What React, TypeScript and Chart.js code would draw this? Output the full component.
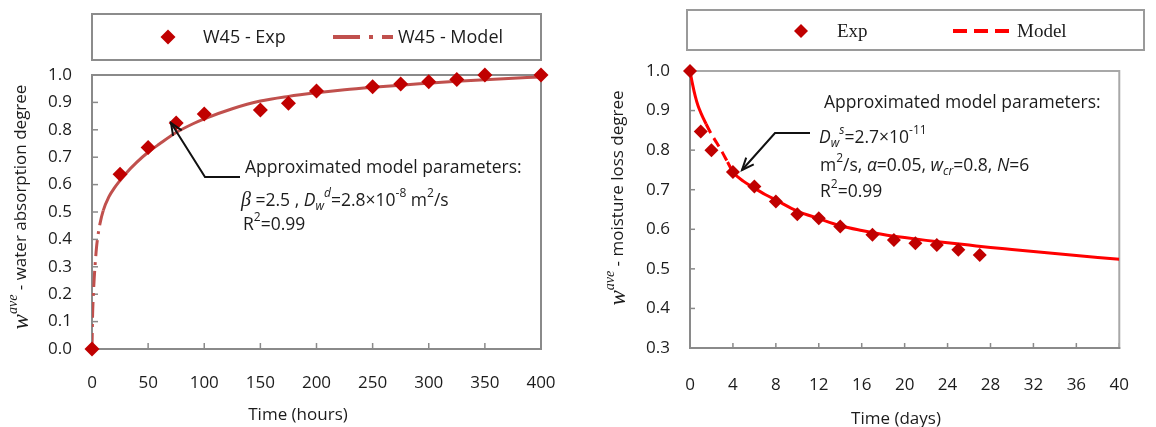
import React, { useEffect, useRef } from 'react';
import { Chart, registerables } from 'chart.js';

Chart.register(...registerables);

// ---------- Left chart: water absorption (W45) ----------
const absTimeExp = [0, 25, 50, 75, 100, 150, 175, 200, 250, 275, 300, 325, 350, 400];
const absExp = [0, 0.638, 0.735, 0.825, 0.858, 0.872, 0.897, 0.942, 0.957, 0.967, 0.975, 0.984, 1.0, 1.0];
const absTimeModel = [0, 0.5, 1, 2, 3, 4, 5, 7, 10, 15, 20, 25, 30, 40, 50, 60, 75, 90, 100, 125, 150, 175, 200, 225, 250, 275, 300, 325, 350, 375, 400];
const absModel = [0, 0.12, 0.18, 0.26, 0.32, 0.37, 0.405, 0.455, 0.505, 0.555, 0.588, 0.615, 0.64, 0.682, 0.718, 0.748, 0.79, 0.822, 0.84, 0.877, 0.905, 0.922, 0.935, 0.946, 0.955, 0.963, 0.97, 0.977, 0.983, 0.988, 0.993];
const absXTicks = [0, 50, 100, 150, 200, 250, 300, 350, 400];
const absYTicks = [0, 0.1, 0.2, 0.3, 0.4, 0.5, 0.6, 0.7, 0.8, 0.9, 1.0];

// ---------- Right chart: moisture loss ----------
const lossTimeExp = [0, 1, 2, 4, 6, 8, 10, 12, 14, 17, 19, 21, 23, 25, 27];
const lossExp = [1.0, 0.847, 0.8, 0.745, 0.708, 0.67, 0.638, 0.628, 0.607, 0.586, 0.573, 0.565, 0.56, 0.548, 0.535];
const lossTimeModel = [0, 0.25, 0.5, 0.75, 1, 1.5, 2, 2.5, 3, 3.5, 4, 5, 6, 7, 8, 10, 12, 14, 16, 18, 20, 22, 24, 26, 28, 30, 32, 34, 36, 38, 40];
const lossModel = [1.0, 0.965, 0.935, 0.912, 0.895, 0.866, 0.84, 0.818, 0.795, 0.77, 0.745, 0.721, 0.704, 0.688, 0.674, 0.646, 0.627, 0.609, 0.597, 0.587, 0.579, 0.572, 0.566, 0.56, 0.554, 0.549, 0.544, 0.539, 0.534, 0.529, 0.524];
const lossXTicks = [0, 4, 8, 12, 16, 20, 24, 28, 32, 36, 40];
const lossYTicks = [0.3, 0.4, 0.5, 0.6, 0.7, 0.8, 0.9, 1.0];

const SANS = "'Open Sans', 'DejaVu Sans', sans-serif";
const SERIF = "'Liberation Serif', 'DejaVu Serif', serif";
const TEXT = '#1c1c1c';

type Seg = { t: string; s?: number; i?: boolean; serif?: boolean; dy?: number };
type TextItem = { x: number; y: number; size: number; segs: Seg[]; rot?: boolean; center?: boolean; family?: string };
type LegendItem = { kind: 'marker' | 'line'; x: number; x2?: number; y: number; color: string; dash?: number[]; width?: number; r?: number; label: string; tx: number };
type Deco = {
  frameLB: string;
  frameTR: string;
  frameW: number;
  tickLen: number;
  xTicks: number[];
  yTicks: number[];
  legendBox: [number, number, number, number];
  legendBorder: string;
  legendFont: string;
  legend: LegendItem[];
  texts: TextItem[];
  arrows: [number, number][][];
};

function drawRich(ctx: CanvasRenderingContext2D, item: TextItem) {
  ctx.save();
  ctx.translate(item.x, item.y);
  if (item.rot) ctx.rotate(-Math.PI / 2);
  const fonts = item.segs.map(
    (sg) => `${sg.i ? 'italic ' : ''}${sg.s ?? item.size}px ${sg.serif ? SERIF : item.family ?? SANS}`
  );
  const widths = item.segs.map((sg, k) => {
    ctx.font = fonts[k];
    return ctx.measureText(sg.t).width;
  });
  const total = widths.reduce((p, c) => p + c, 0);
  let x = item.center ? -total / 2 : 0;
  ctx.textBaseline = 'middle';
  ctx.textAlign = 'left';
  ctx.fillStyle = TEXT;
  item.segs.forEach((sg, k) => {
    ctx.font = fonts[k];
    ctx.fillText(sg.t, x, sg.dy ?? 0);
    x += widths[k];
  });
  ctx.restore();
}

function diamond(ctx: CanvasRenderingContext2D, x: number, y: number, r: number, color: string) {
  ctx.beginPath();
  ctx.moveTo(x, y - r);
  ctx.lineTo(x + r, y);
  ctx.lineTo(x, y + r);
  ctx.lineTo(x - r, y);
  ctx.closePath();
  ctx.fillStyle = color;
  ctx.fill();
}

function makeDeco(cfg: Deco) {
  return {
    id: 'deco',
    beforeDatasetsDraw(chart: any) {
      const { ctx, chartArea: a, scales } = chart;
      ctx.save();
      ctx.lineWidth = 1.5;
      ctx.strokeStyle = cfg.frameLB;
      cfg.yTicks.forEach((v) => {
        const y = scales.y.getPixelForValue(v);
        ctx.beginPath();
        ctx.moveTo(a.left, y);
        ctx.lineTo(a.left + cfg.tickLen, y);
        ctx.stroke();
      });
      cfg.xTicks.forEach((v) => {
        const x = scales.x.getPixelForValue(v);
        ctx.beginPath();
        ctx.moveTo(x, a.bottom);
        ctx.lineTo(x, a.bottom - cfg.tickLen);
        ctx.stroke();
      });
      ctx.lineWidth = cfg.frameW;
      ctx.lineCap = 'square';
      ctx.strokeStyle = cfg.frameTR;
      ctx.beginPath();
      ctx.moveTo(a.left, a.top);
      ctx.lineTo(a.right, a.top);
      ctx.lineTo(a.right, a.bottom);
      ctx.stroke();
      ctx.strokeStyle = cfg.frameLB;
      ctx.beginPath();
      ctx.moveTo(a.left, a.top);
      ctx.lineTo(a.left, a.bottom);
      ctx.lineTo(a.right, a.bottom);
      ctx.stroke();
      ctx.restore();
    },
    afterDraw(chart: any) {
      const ctx: CanvasRenderingContext2D = chart.ctx;
      ctx.save();
      const [bx1, by1, bx2, by2] = cfg.legendBox;
      ctx.strokeStyle = cfg.legendBorder;
      ctx.lineWidth = 2;
      ctx.strokeRect(bx1, by1, bx2 - bx1, by2 - by1);
      cfg.legend.forEach((it) => {
        if (it.kind === 'marker') {
          diamond(ctx, it.x, it.y, it.r ?? 7, it.color);
        } else {
          ctx.save();
          ctx.strokeStyle = it.color;
          ctx.lineWidth = it.width ?? 3;
          ctx.setLineDash(it.dash ?? []);
          ctx.beginPath();
          ctx.moveTo(it.x, it.y);
          ctx.lineTo(it.x2 ?? it.x, it.y);
          ctx.stroke();
          ctx.restore();
        }
        ctx.font = cfg.legendFont;
        ctx.fillStyle = TEXT;
        ctx.textBaseline = 'middle';
        ctx.textAlign = 'left';
        ctx.fillText(it.label, it.tx, it.y + 1);
      });
      cfg.texts.forEach((t) => drawRich(ctx, t));
      ctx.strokeStyle = '#111';
      ctx.lineWidth = 2;
      cfg.arrows.forEach((pts) => {
        ctx.beginPath();
        ctx.moveTo(pts[0][0], pts[0][1]);
        for (let k = 1; k < pts.length; k++) ctx.lineTo(pts[k][0], pts[k][1]);
        ctx.stroke();
        const [px, py] = pts[pts.length - 2];
        const [tx, ty] = pts[pts.length - 1];
        const ang = Math.atan2(ty - py, tx - px);
        const L = 13;
        ctx.beginPath();
        ctx.moveTo(tx - L * Math.cos(ang - 0.4), ty - L * Math.sin(ang - 0.4));
        ctx.lineTo(tx, ty);
        ctx.lineTo(tx - L * Math.cos(ang + 0.4), ty - L * Math.sin(ang + 0.4));
        ctx.stroke();
      });
      ctx.restore();
    },
  };
}

function axisCfg(min: number, max: number, ticks: number[], pad: number, fmt: (v: number) => string, fit: (s: any) => void) {
  return {
    type: 'linear' as const,
    min,
    max,
    grid: { display: false, drawTicks: false },
    border: { display: false },
    ticks: {
      padding: pad,
      color: TEXT,
      font: { family: SANS, size: 17 },
      callback: (v: any) => fmt(Number(v)),
    },
    afterBuildTicks: (s: any) => {
      s.ticks = ticks.map((v) => ({ value: v }));
    },
    afterFit: fit,
  };
}

function leftConfig(): any {
  const deco = makeDeco({
    frameLB: '#8a8a8a',
    frameTR: '#8a8a8a',
    frameW: 2,
    tickLen: 6,
    xTicks: absXTicks,
    yTicks: absYTicks,
    legendBox: [92, 14, 541, 60],
    legendBorder: '#8c8c8c',
    legendFont: `18px ${SANS}`,
    legend: [
      { kind: 'marker', x: 168, y: 37, r: 7.5, color: '#C00000', label: 'W45 - Exp', tx: 203 },
      { kind: 'line', x: 333, x2: 393, y: 37, color: '#C0504D', width: 4, dash: [27, 9, 4, 9], label: 'W45 - Model', tx: 398 },
    ],
    texts: [
      {
        x: 21, y: 207, size: 17, rot: true, center: true,
        segs: [
          { t: 'w', serif: true, i: true, s: 23, dy: 1 },
          { t: 'ave', serif: true, i: true, s: 14, dy: -8 },
          { t: ' - water absorption degree' },
        ],
      },
      { x: 298, y: 415, size: 17, center: true, segs: [{ t: 'Time (hours)' }] },
      { x: 245, y: 168, size: 17.5, segs: [{ t: 'Approximated model parameters:' }] },
      {
        x: 241, y: 201, size: 17.5,
        segs: [
          { t: 'β', serif: true, i: true, s: 20 },
          { t: ' =2.5 , ' },
          { t: 'D', i: true },
          { t: 'w', i: true, s: 12, dy: 6 },
          { t: 'd', i: true, s: 12, dy: -7 },
          { t: '=2.8×10' },
          { t: '-8', s: 12, dy: -7 },
          { t: ' m' },
          { t: '2', s: 12, dy: -7 },
          { t: '/s' },
        ],
      },
      {
        x: 243, y: 225, size: 17.5,
        segs: [{ t: 'R' }, { t: '2', s: 12, dy: -7 }, { t: '=0.99' }],
      },
    ],
    arrows: [[[240, 177], [205, 177], [171, 123]]],
  });
  return {
    type: 'scatter',
    data: {
      datasets: [
        {
          label: 'W45 - Exp',
          data: absTimeExp.map((x, k) => ({ x, y: absExp[k] })),
          pointStyle: 'rectRot',
          pointRadius: 7.5,
          pointBackgroundColor: '#C00000',
          pointBorderColor: '#C00000',
          pointBorderWidth: 0,
          showLine: false,
          clip: false,
          order: 1,
        },
        {
          label: 'W45 - Model',
          data: absTimeModel.map((x, k) => ({ x, y: absModel[k] })),
          showLine: true,
          borderColor: '#C0504D',
          borderWidth: 3,
          pointRadius: 0,
          cubicInterpolationMode: 'monotone',
          segment: { borderDash: (c: any) => (c.p0.parsed.y < 0.5 ? [16, 6, 3, 6] : undefined) },
          order: 2,
        },
      ],
    },
    options: {
      animation: false,
      responsive: false,
      maintainAspectRatio: false,
      layout: { padding: { top: 75, left: 0, right: 39, bottom: 0 } },
      plugins: { legend: { display: false }, tooltip: { enabled: false } },
      scales: {
        x: axisCfg(0, 400, absXTicks, 24, (v) => String(v), (s) => { s.height = 78; }),
        y: axisCfg(0, 1, absYTicks, 20, (v) => v.toFixed(1), (s) => { s.width = 92; }),
      },
    },
    plugins: [deco],
  };
}

function rightConfig(): any {
  const deco = makeDeco({
    frameLB: '#8a8a8a',
    frameTR: '#a8a8a8',
    frameW: 2,
    tickLen: 5,
    xTicks: lossXTicks,
    yTicks: lossYTicks,
    legendBox: [107, 10, 564, 50],
    legendBorder: '#9a9a9a',
    legendFont: `19px ${SERIF}`,
    legend: [
      { kind: 'marker', x: 221, y: 31, r: 7, color: '#C00000', label: 'Exp', tx: 257 },
      { kind: 'line', x: 373, x2: 430, y: 31, color: '#FF0000', width: 4, dash: [14, 7], label: 'Model', tx: 437 },
    ],
    texts: [
      {
        x: 38, y: 198, size: 17, rot: true, center: true,
        segs: [
          { t: 'w', serif: true, i: true, s: 23, dy: 1 },
          { t: 'ave', serif: true, i: true, s: 14, dy: -8 },
          { t: ' - moisture loss degree' },
        ],
      },
      { x: 316, y: 419, size: 17, center: true, segs: [{ t: 'Time (days)' }] },
      { x: 244, y: 103, size: 17.5, segs: [{ t: 'Approximated model parameters:' }] },
      {
        x: 239, y: 138, size: 17.5,
        segs: [
          { t: 'D', i: true },
          { t: 'w', i: true, s: 12, dy: 6 },
          { t: 's', i: true, s: 12, dy: -7 },
          { t: '=2.7×10' },
          { t: '-11', s: 12, dy: -7 },
        ],
      },
      {
        x: 240, y: 166, size: 17.5,
        segs: [
          { t: 'm' },
          { t: '2', s: 12, dy: -7 },
          { t: '/s, ' },
          { t: 'α', i: true },
          { t: '=0.05, ' },
          { t: 'w', i: true },
          { t: 'cr', i: true, s: 12, dy: 6 },
          { t: '=0.8, ' },
          { t: 'N', i: true },
          { t: '=6' },
        ],
      },
      {
        x: 240, y: 192, size: 17.5,
        segs: [{ t: 'R' }, { t: '2', s: 12, dy: -7 }, { t: '=0.99' }],
      },
    ],
    arrows: [[[230, 133], [195, 133], [162, 170]]],
  });
  return {
    type: 'scatter',
    data: {
      datasets: [
        {
          label: 'Exp',
          data: lossTimeExp.map((x, k) => ({ x, y: lossExp[k] })),
          pointStyle: 'rectRot',
          pointRadius: 7,
          pointBackgroundColor: '#C00000',
          pointBorderColor: '#C00000',
          pointBorderWidth: 0,
          showLine: false,
          clip: false,
          order: 1,
        },
        {
          label: 'Model',
          data: lossTimeModel.map((x, k) => ({ x, y: lossModel[k] })),
          showLine: true,
          borderColor: '#FF0000',
          borderWidth: 3,
          pointRadius: 0,
          cubicInterpolationMode: 'monotone',
          segment: {
            borderDash: (c: any) => (c.p0.parsed.x >= 1.5 && c.p0.parsed.x < 3.5 ? [10, 6] : undefined),
          },
          order: 2,
        },
      ],
    },
    options: {
      animation: false,
      responsive: false,
      maintainAspectRatio: false,
      layout: { padding: { top: 71, left: 0, right: 11, bottom: 0 } },
      plugins: { legend: { display: false }, tooltip: { enabled: false } },
      scales: {
        x: axisCfg(0, 40, lossXTicks, 27, (v) => String(v), (s) => { s.height = 79; }),
        y: axisCfg(0.3, 1, lossYTicks, 20, (v) => v.toFixed(1), (s) => { s.width = 110; }),
      },
    },
    plugins: [deco],
  };
}

export default function App() {
  const leftRef = useRef<HTMLCanvasElement>(null);
  const rightRef = useRef<HTMLCanvasElement>(null);
  useEffect(() => {
    const c1 = new Chart(leftRef.current as HTMLCanvasElement, leftConfig());
    const c2 = new Chart(rightRef.current as HTMLCanvasElement, rightConfig());
    return () => {
      c1.destroy();
      c2.destroy();
    };
  }, []);
  return (
    <div style={{ position: 'absolute', left: 0, top: 0, width: 1156, height: 427, background: '#fff', overflow: 'hidden' }}>
      <canvas ref={leftRef} width={580} height={427} style={{ position: 'absolute', left: 0, top: 0 }} />
      <canvas ref={rightRef} width={576} height={427} style={{ position: 'absolute', left: 580, top: 0 }} />
    </div>
  );
}
